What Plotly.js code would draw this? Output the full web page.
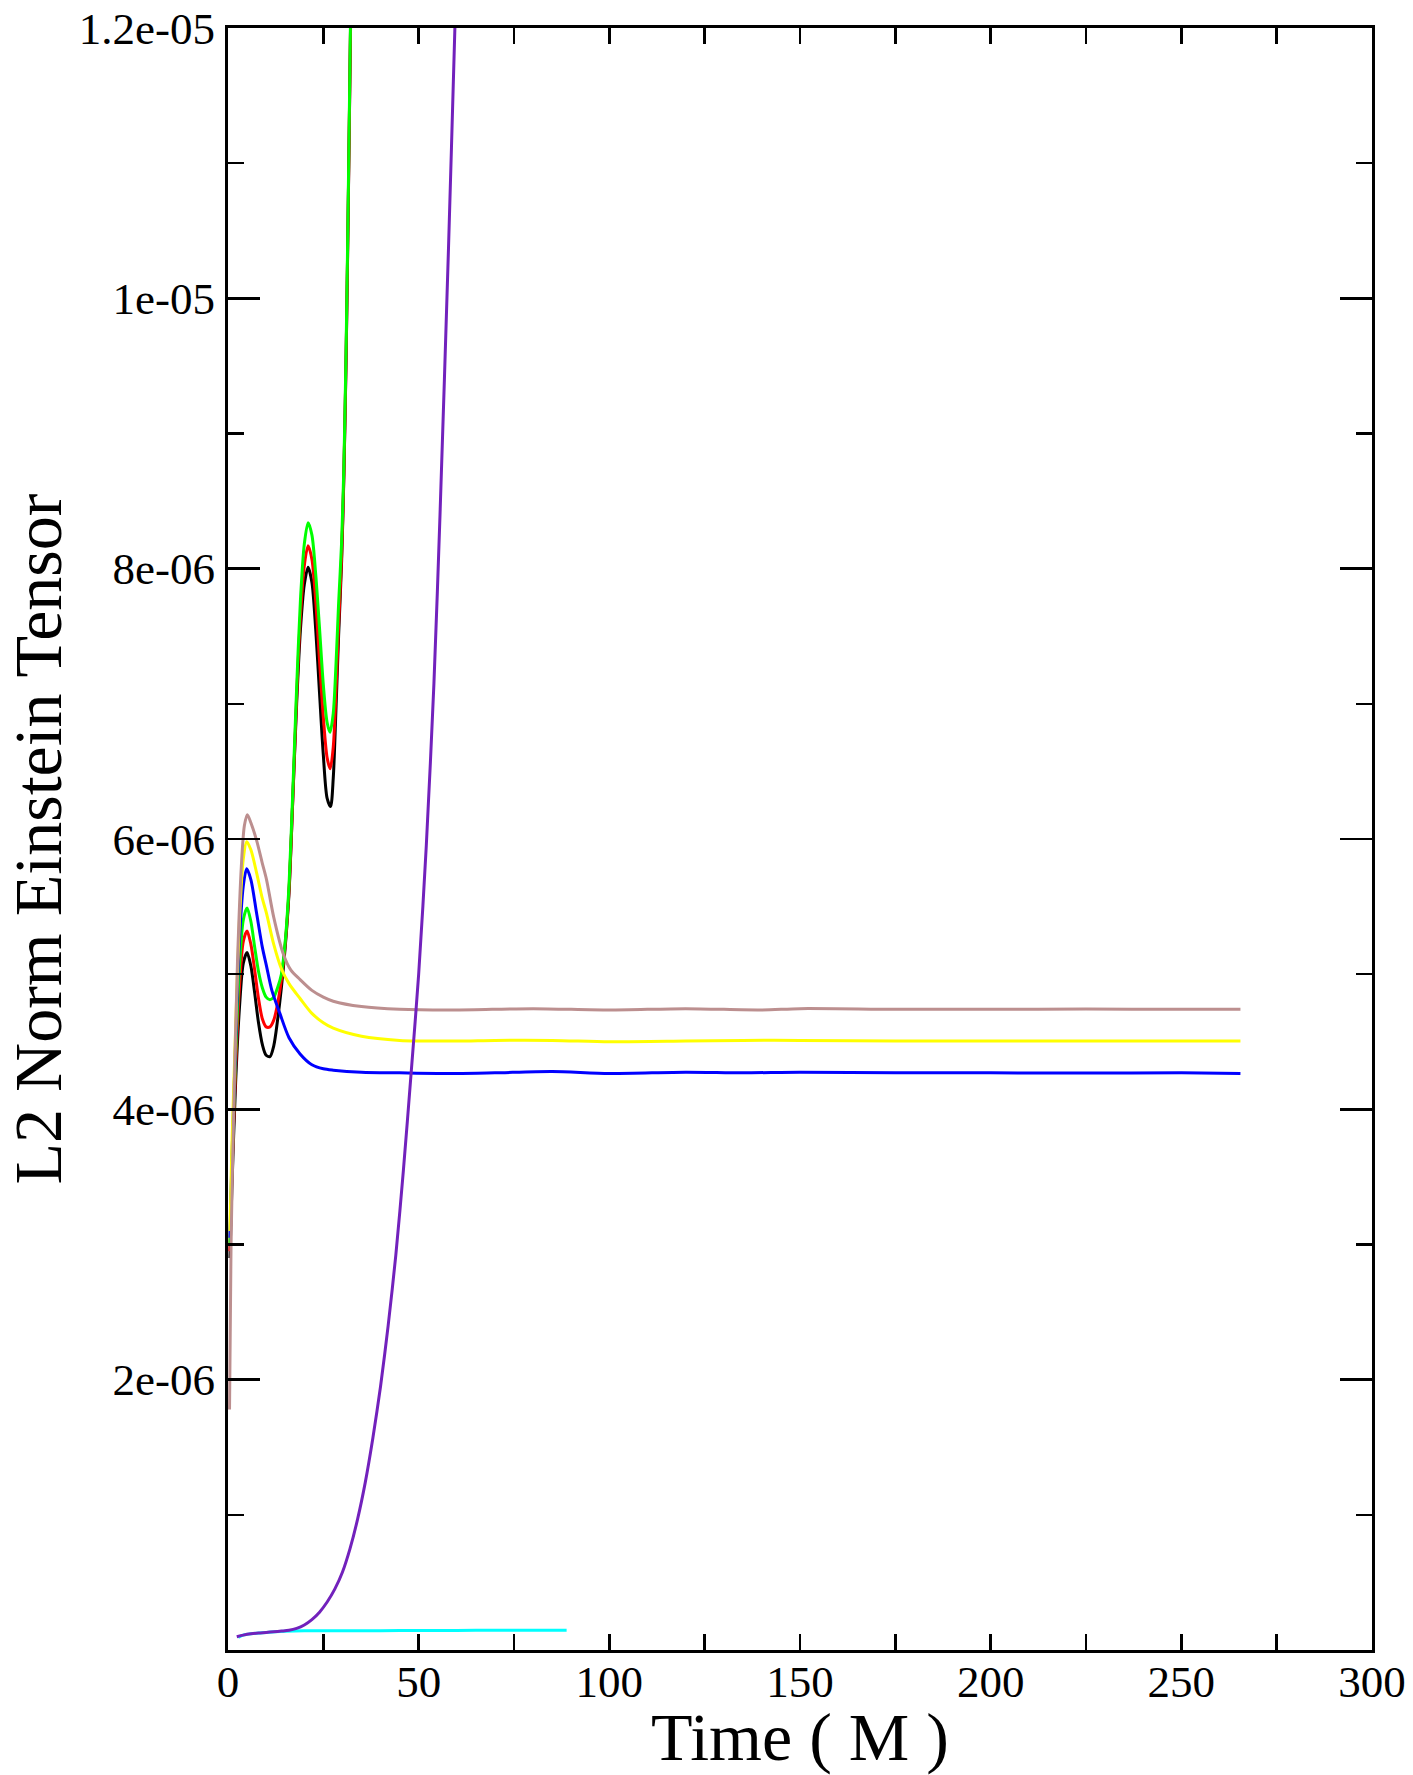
<!DOCTYPE html>
<html>
<head>
<meta charset="utf-8">
<script src="https://cdn.plot.ly/plotly-3.0.1.min.js"></script>
<style>html,body{margin:0;padding:0;background:#fff;}#chart{width:1413px;height:1775px;}</style>
</head>
<body>
<div id="chart"></div>
<script>
// ---- data (time in M, value of L2 norm of Einstein tensor) ----
const tBlack = [0.5,1,2,3,4,5,6,7,8,9,10,11,12,13,14,15,16,17,18,19,20,21,22,23,24,25,26,26.9,27.6,28.3,29,29.8,30.4,31,31.5,32,32.5];
const vBlack = [2.9e-6,3.4e-6,4.2e-6,4.75e-6,5.08e-6,5.16e-6,5.06e-6,4.86e-6,4.64e-6,4.48e-6,4.40e-6,4.39e-6,4.47e-6,4.66e-6,4.9e-6,5.2e-6,5.6e-6,6.3e-6,7.0e-6,7.55e-6,7.88e-6,8.01e-6,7.9e-6,7.55e-6,7.08e-6,6.62e-6,6.3e-6,6.24e-6,6.45e-6,6.95e-6,7.5e-6,8.06e-6,8.7e-6,9.6e-6,10.6e-6,11.7e-6,12.8e-6];

const tRed = [0.5,1,2,3,4,5,6,7,8,9,10,11,12,13,14,15,16,17,18,19,20,21,22,23,24,25,26,26.8,27.6,28.3,29,29.8,30.4,31,31.5,32,32.5];
const vRed = [2.95e-6,3.5e-6,4.3e-6,4.9e-6,5.24e-6,5.32e-6,5.22e-6,5.03e-6,4.82e-6,4.67e-6,4.61e-6,4.61e-6,4.66e-6,4.78e-6,4.96e-6,5.22e-6,5.62e-6,6.3e-6,7.05e-6,7.65e-6,8.02e-6,8.17e-6,8.07e-6,7.76e-6,7.32e-6,6.9e-6,6.6e-6,6.52e-6,6.68e-6,7.08e-6,7.58e-6,8.1e-6,8.72e-6,9.62e-6,10.62e-6,11.72e-6,12.82e-6];

const tGreen = [0.5,1,2,3,4,5,6,7,8,9,10,11,12,13,14,15,16,17,18,19,20,21,22,23,24,25,26,26.75,27.6,28.3,29,29.8,30.4,31,31.5,32,32.5];
const vGreen = [3.0e-6,3.55e-6,4.4e-6,5.05e-6,5.4e-6,5.49e-6,5.39e-6,5.2e-6,5.02e-6,4.9e-6,4.83e-6,4.81e-6,4.83e-6,4.9e-6,5.0e-6,5.24e-6,5.66e-6,6.36e-6,7.12e-6,7.77e-6,8.18e-6,8.34e-6,8.25e-6,7.96e-6,7.56e-6,7.14e-6,6.86e-6,6.79e-6,6.93e-6,7.28e-6,7.74e-6,8.2e-6,8.78e-6,9.68e-6,10.68e-6,11.78e-6,12.88e-6];

const tBlue = [0.5,1,2,3,4,4.9,6,7.5,9,10.1,11.5,13.6,16,18.9,22,25,27.6,35,45,60,70,85,100,120,135,150,175,200,225,250,265.5];
const vBlue = [3.05e-6,3.6e-6,4.5e-6,5.25e-6,5.65e-6,5.78e-6,5.7e-6,5.45e-6,5.2e-6,5.06e-6,4.88e-6,4.71e-6,4.53e-6,4.41e-6,4.33e-6,4.30e-6,4.29e-6,4.275e-6,4.27e-6,4.265e-6,4.27e-6,4.28e-6,4.265e-6,4.275e-6,4.27e-6,4.275e-6,4.27e-6,4.27e-6,4.268e-6,4.27e-6,4.265e-6];

const tYellow = [0.5,1,2,3,4,4.9,6,7.5,9,10.1,12,14,16,18.9,22,25,27.6,35,45,60,70,85,100,120,135,150,175,200,225,250,265.5];
const vYellow = [3.1e-6,3.7e-6,4.6e-6,5.4e-6,5.85e-6,5.98e-6,5.92e-6,5.75e-6,5.56e-6,5.45e-6,5.22e-6,5.04e-6,4.93e-6,4.82e-6,4.71e-6,4.64e-6,4.6e-6,4.54e-6,4.51e-6,4.505e-6,4.51e-6,4.51e-6,4.5e-6,4.505e-6,4.51e-6,4.51e-6,4.505e-6,4.505e-6,4.505e-6,4.505e-6,4.505e-6];

const tBrown = [0.4,0.8,1.5,2.5,3.5,4.3,5.07,6,7.5,9,10.1,12,14.5,16.5,18.9,22,25,27.6,35,45,60,80,100,120,140,150,175,200,225,250,265.5];
const vBrown = [1.78e-6,3.0e-6,4.0e-6,5.1e-6,5.8e-6,6.1e-6,6.18e-6,6.12e-6,5.99e-6,5.82e-6,5.70e-6,5.42e-6,5.15e-6,5.03e-6,4.96e-6,4.88e-6,4.83e-6,4.80e-6,4.76e-6,4.74e-6,4.735e-6,4.745e-6,4.735e-6,4.745e-6,4.735e-6,4.745e-6,4.74e-6,4.74e-6,4.742e-6,4.74e-6,4.74e-6];

const tCyan = [2.7,4,6,10,15,20,30,40,50,60,70,80,88.8];
const vCyan = [0.094e-6,0.11e-6,0.12e-6,0.13e-6,0.138e-6,0.142e-6,0.143e-6,0.143e-6,0.144e-6,0.145e-6,0.146e-6,0.147e-6,0.147e-6];

const tPurple = [2.3,4,6,8,10,12,14,16,18,20,22,24,26,28,30,32,34,36,38,40,42,44,46,48,50,52,54,55.6,57.8,59.5,60.5];
const vPurple = [0.098e-6,0.11e-6,0.12e-6,0.126e-6,0.13e-6,0.135e-6,0.14e-6,0.146e-6,0.16e-6,0.185e-6,0.225e-6,0.28e-6,0.355e-6,0.45e-6,0.575e-6,0.75e-6,0.97e-6,1.24e-6,1.57e-6,1.95e-6,2.4e-6,2.92e-6,3.55e-6,4.26e-6,5.0e-6,5.95e-6,7.15e-6,8.4e-6,10.35e-6,12.0e-6,13.0e-6];

// ---- tick labels ----
const yTickVals = [2e-6,4e-6,6e-6,8e-6,1e-5,1.2e-5];
const yTickText = ["2e-06","4e-06","6e-06","8e-06","1e-05","1.2e-05"];

const series = [
  {x:tBlack, y:vBlack, color:'#000000'},
  {x:tRed, y:vRed, color:'#ff0000'},
  {x:tGreen, y:vGreen, color:'#00ff00'},
  {x:tBlue, y:vBlue, color:'#0000ff'},
  {x:tYellow, y:vYellow, color:'#ffff00'},
  {x:tBrown, y:vBrown, color:'#bc8f8f'},
  {x:tCyan, y:vCyan, color:'#00ffff'},
  {x:tPurple, y:vPurple, color:'#7221bc'}
];

const traces = series.map(s => ({
  type:'scatter', mode:'lines', x:s.x, y:s.y,
  line:{color:s.color, width:3, shape:'spline', smoothing:0.8},
  hoverinfo:'skip', showlegend:false
}));

const serif = 'Liberation Serif, Times New Roman, serif';

const layout = {
  width:1413, height:1775,
  margin:{l:228, r:41, t:28, b:125},
  paper_bgcolor:'#ffffff', plot_bgcolor:'#ffffff',
  showlegend:false,
  xaxis:{
    range:[0,300], tickmode:'linear', tick0:0, dtick:50,
    ticks:'inside', ticklen:16, tickwidth:2.5, tickcolor:'#000',
    minor:{tickmode:'linear', tick0:0, dtick:25, ticks:'inside', ticklen:16, tickwidth:2.5, tickcolor:'#000', showgrid:false},
    showline:true, linecolor:'#000', linewidth:3, mirror:'allticks',
    showgrid:false, zeroline:false, automargin:false,
    tickfont:{family:serif, size:45, color:'#000'},
    ticklabelstandoff:-10,
    title:{text:'Time ( M )', font:{family:serif, size:68, color:'#000'}, standoff:19}
  },
  yaxis:{
    range:[0,1.2e-5], tickmode:'array', tickvals:yTickVals, ticktext:yTickText,
    ticks:'inside', ticklen:32, tickwidth:2.5, tickcolor:'#000',
    minor:{tickmode:'linear', tick0:0, dtick:1e-6, ticks:'inside', ticklen:16, tickwidth:2.5, tickcolor:'#000', showgrid:false},
    showline:true, linecolor:'#000', linewidth:3, mirror:'allticks',
    showgrid:false, zeroline:false, automargin:false,
    tickfont:{family:serif, size:45, color:'#000'},
    ticklabelstandoff:1,
    title:{text:'L2 Norm Einstein Tensor', font:{family:serif, size:68, color:'#000'}, standoff:3}
  }
};

Plotly.newPlot('chart', traces, layout, {staticPlot:true, displayModeBar:false});
</script>
</body>
</html>
